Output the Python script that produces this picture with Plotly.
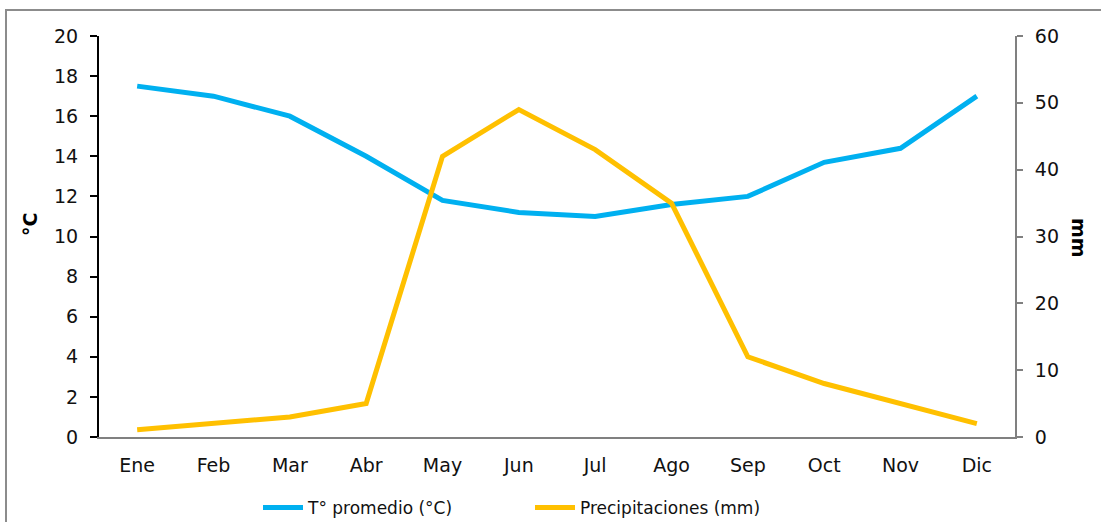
import plotly.graph_objects as go

months = ["Ene", "Feb", "Mar", "Abr", "May", "Jun", "Jul", "Ago", "Sep", "Oct", "Nov", "Dic"]
temp = [17.5, 17.0, 16.0, 14.0, 11.8, 11.2, 11.0, 11.6, 12.0, 13.7, 14.4, 17.0]
precip = [1.1, 2.0, 3.0, 5.0, 42.0, 49.0, 43.0, 35.0, 12.0, 8.0, 5.0, 2.0]

FONT = "'DejaVu Sans', sans-serif"
FS = 19

fig = go.Figure()
fig.add_trace(go.Scatter(x=months, y=temp, mode="lines", name="T° promedio (°C)",
                         line=dict(color="#00B0F0", width=5), yaxis="y"))
fig.add_trace(go.Scatter(x=months, y=precip, mode="lines", name="Precipitaciones (mm)",
                         line=dict(color="#FFC000", width=5), yaxis="y2"))

fig.update_layout(
    width=1101, height=522,
    margin=dict(l=99, r=86, t=36, b=85, autoexpand=False),
    paper_bgcolor="white", plot_bgcolor="white",
    font=dict(family=FONT, size=FS, color="#111111"),
    showlegend=True,
    legend=dict(orientation="h", xref="container", yref="container",
                x=258 / 1101, xanchor="left", y=(522 - 508) / 522, yanchor="middle",
                font=dict(size=17), itemwidth=40, tracegroupgap=0,
                entrywidth=217, entrywidthmode="pixels"),
    xaxis=dict(type="category", range=[-0.5, 11.5], showgrid=False,
               showline=True, linecolor="#808080", linewidth=2,
               ticks="", tickfont=dict(size=FS), zeroline=False, automargin=False,
               ticklabelstandoff=10),
    yaxis=dict(range=[0, 20], dtick=2, showgrid=False, zeroline=False,
               showline=True, linecolor="black", linewidth=2,
               ticks="outside", ticklen=7, tickcolor="black", tickwidth=2,
               tickfont=dict(size=FS), ticklabelstandoff=8, automargin=False),
    yaxis2=dict(range=[0, 60], dtick=10, overlaying="y", side="right",
                showgrid=False, zeroline=False,
                showline=True, linecolor="#808080", linewidth=2,
                ticks="outside", ticklen=6, tickcolor="#808080", tickwidth=2,
                tickfont=dict(size=FS), ticklabelstandoff=8, automargin=False),
    annotations=[
        dict(text="<b>°C</b>", xref="paper", yref="paper", x=(30 - 99) / 916, y=(437 - 225) / 401,
             showarrow=False, textangle=-90, font=dict(size=FS, color="black"),
             xanchor="center", yanchor="middle"),
        dict(text="<b>mm</b>", xref="paper", yref="paper", x=(1079 - 99) / 916, y=(437 - 238) / 401,
             showarrow=False, textangle=90, font=dict(size=FS, color="black"),
             xanchor="center", yanchor="middle"),
    ],
    shapes=[
        dict(type="rect", xref="paper", yref="paper",
             x0=(6 - 99) / 916, y0=-0.3, x1=1.2, y1=(437 - 10) / 401,
             line=dict(color="#8C8C8C", width=2), fillcolor="rgba(0,0,0,0)", layer="below"),
    ],
)

fig.write_html("out.html", config={"displayModeBar": False},
               post_script="document.body.style.margin='0';")
